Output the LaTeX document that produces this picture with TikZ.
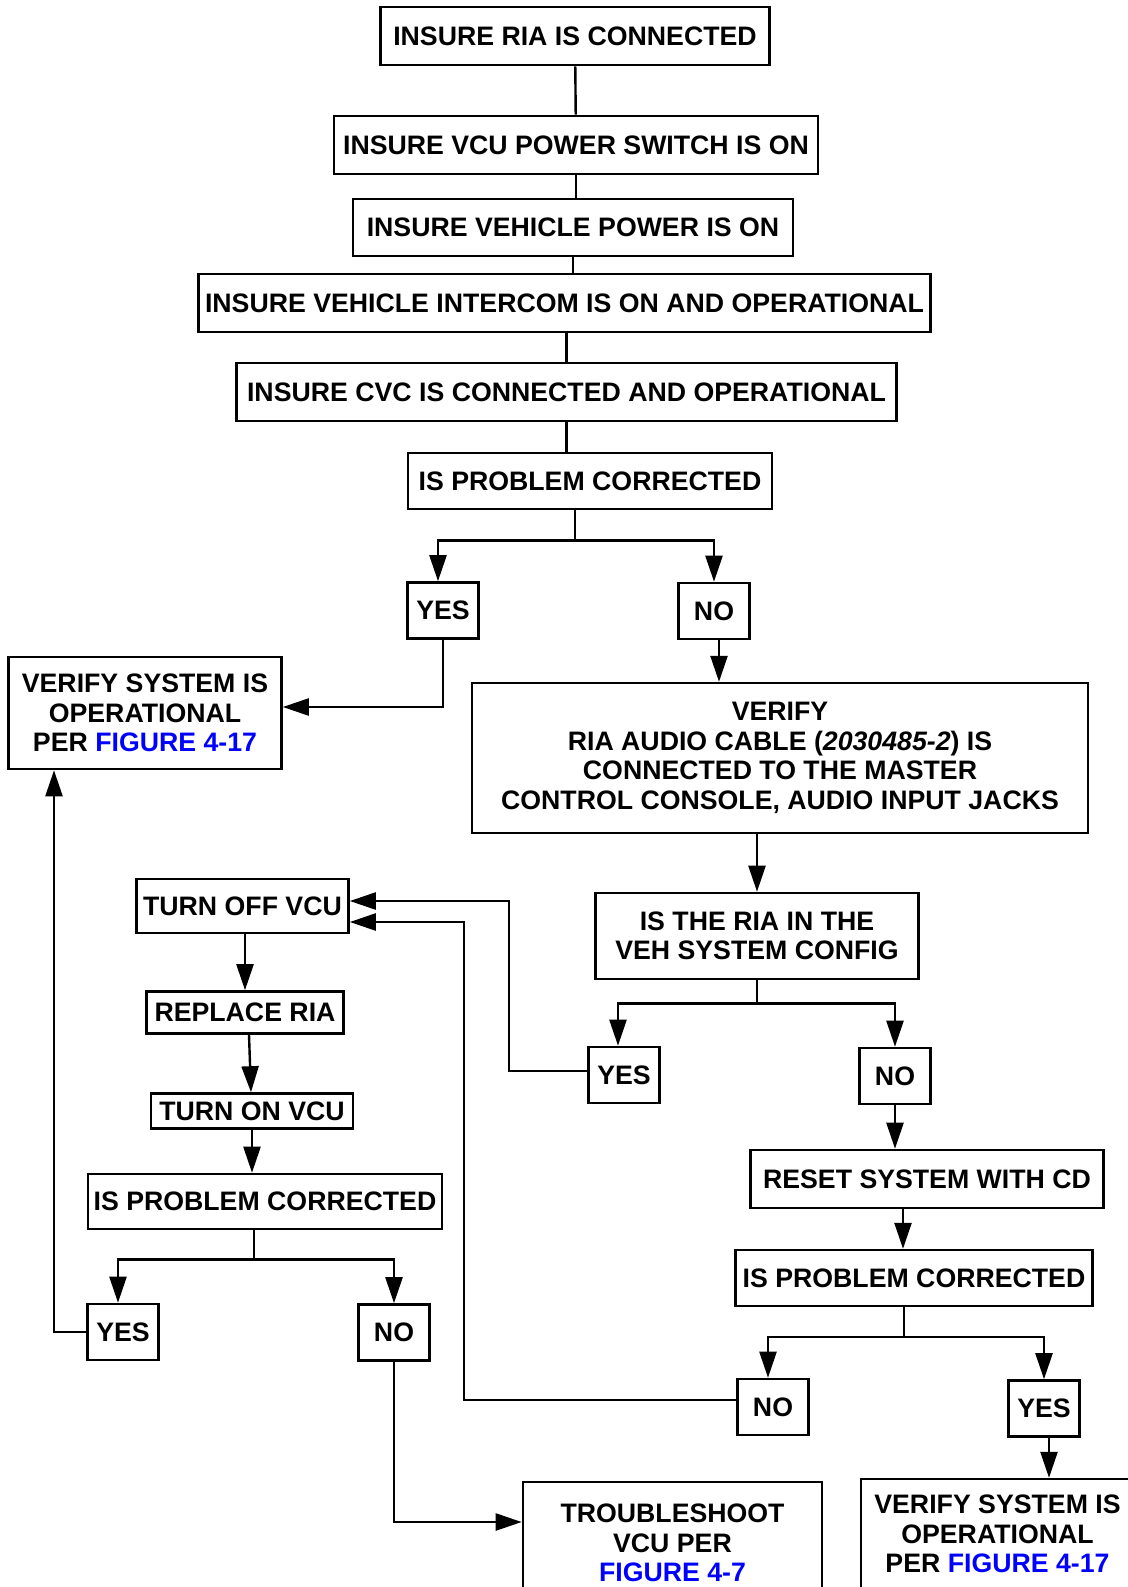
\documentclass[tikz,border=0pt]{standalone}
\usepackage{fontspec}
\setmainfont{Liberation Sans}
\usetikzlibrary{arrows.meta}
\tikzset{
  box/.style={draw, line width=2.6pt, inner sep=3pt, align=center,
    font=\fontsize{26.7}{29.5}\selectfont\bfseries},
  ans/.style={box, minimum width=71pt, minimum height=56pt},
}
\begin{document}
\begin{tikzpicture}[x=1pt,y=-1pt,line width=2.4pt,>={Triangle[length=26pt,width=17pt]}]
\useasboundingbox (0,0) rectangle (1127,1587);
% checks before anything else
\node[box, minimum width=389pt, minimum height=58pt] (insria) at (575,36) {INSURE RIA IS CONNECTED};
\node[box, minimum width=484pt, minimum height=58pt] (insvcu) at (576,145) {INSURE VCU POWER SWITCH IS ON};
\node[box, minimum width=440pt, minimum height=57pt] (insveh) at (573,227.5) {INSURE VEHICLE POWER IS ON};
\node[box, minimum width=732pt, minimum height=58pt] (insicom) at (564.5,303) {INSURE VEHICLE INTERCOM IS ON AND OPERATIONAL};
\node[box, minimum width=660pt, minimum height=58pt] (inscvc) at (566.5,392) {INSURE CVC IS CONNECTED AND OPERATIONAL};
\node[box, minimum width=364pt, minimum height=56pt] (fixa) at (590,481) {IS PROBLEM CORRECTED};
\node[ans] (yesa) at (443,610.5) {YES};
\node[ans] (noa) at (714,611) {NO};
\node[box, minimum width=273pt, minimum height=112pt] (opa) at (145,713) {VERIFY SYSTEM IS\\OPERATIONAL\\PER \textcolor{blue}{FIGURE 4-17}};
% cable and config
\node[box, minimum width=616pt, minimum height=150pt] (cable) at (780,758) {VERIFY\\RIA AUDIO CABLE (\textit{2030485-2}) IS\\CONNECTED TO THE MASTER\\CONTROL CONSOLE, AUDIO INPUT JACKS};
\node[box, minimum width=323pt, minimum height=86pt] (inconf) at (757,936) {IS THE RIA IN THE\\VEH SYSTEM CONFIG};
\node[ans] (yesb) at (624,1075) {YES};
\node[ans] (nob) at (895,1076) {NO};
% replace the RIA
\node[box, minimum width=212pt, minimum height=54pt] (vcuoff) at (242.5,906) {TURN OFF VCU};
\node[box, minimum width=197pt, minimum height=42pt] (newria) at (245,1012.5) {REPLACE RIA};
\node[box, minimum width=202pt, minimum height=35pt] (vcuon) at (252,1111) {TURN ON VCU};
\node[box, minimum width=354pt, minimum height=55pt] (fixb) at (265,1201.5) {IS PROBLEM CORRECTED};
\node[ans] (yesc) at (123,1332) {YES};
\node[ans] (noc) at (394,1332.5) {NO};
\node[box, minimum width=299pt, minimum height=122pt] (vcutrb) at (672.5,1543) {TROUBLESHOOT\\VCU PER\\\textcolor{blue}{FIGURE 4-7}};
% reset
\node[box, minimum width=353pt, minimum height=58pt] (reset) at (927,1179) {RESET SYSTEM WITH CD};
\node[box, minimum width=357pt, minimum height=56pt] (fixc) at (914,1278) {IS PROBLEM CORRECTED};
\node[ans] (nod) at (773,1407) {NO};
\node[ans] (yesd) at (1044,1408.5) {YES};
\node[box, minimum width=273pt, minimum height=110pt] (opb) at (997.5,1534) {VERIFY SYSTEM IS\\OPERATIONAL\\PER \textcolor{blue}{FIGURE 4-17}};

\draw (insria) -- (insvcu);
\draw (insvcu.south) -- (insvcu.south |- insveh.north);
\draw (insveh.south) -- (insveh.south |- insicom.north);
\draw (inscvc.north |- insicom.south) -- (inscvc.north);
\draw (inscvc.south) -- (inscvc.south |- fixa.north);

\draw ([xshift=-15pt]fixa.south) -- ++(0,30) coordinate (fa);
\draw[->] (fa) -| ([xshift=-5pt]yesa.north);
\draw[->] (fa) -| (noa.north);
\draw[->] (yesa.south) |- ([yshift=6pt]opa.east);
\draw[->] ([xshift=5pt]noa.south) -- ++(0,41.5);

\draw[->] (inconf.north |- cable.south) -- (inconf.north);
\draw (inconf.south) -- ++(0,23) coordinate (fb);
\draw[->] (fb) -| ([xshift=-6pt]yesb.north);
\draw[->] (fb) -| (nob.north);
\draw[->] ([yshift=4pt]yesb.west) -- ++(-78,0) |- ([yshift=5pt]vcuoff.east);
\draw[->] (nob.south) -- (nob.south |- reset.north);

\draw[->] (newria.north |- vcuoff.south) -- (newria.north);
\draw[->] ([xshift=4pt]newria.south) -- ([xshift=-1pt]vcuon.north);
\draw[->] (vcuon.south) -- (vcuon.south |- fixb.north);
\draw ([xshift=-11pt]fixb.south) -- ++(0,29) coordinate (fc);
\draw[->] (fc) -| ([xshift=-5pt]yesc.north);
\draw[->] (fc) -| (noc.north);
\draw[->] (yesc.west) -| ([xshift=-91pt]opa.south);
\draw[->] (noc.south) |- ([yshift=21pt]vcutrb.west);

\draw[->] ([xshift=-24pt]reset.south) -- ++(0,39.5);
\draw ([xshift=-10pt]fixc.south) -- ++(0,29.5) coordinate (fd);
\draw[->] (fd) -| ([xshift=-5pt]nod.north);
\draw[->] (fd) -| (yesd.north);
\draw[->] ([yshift=7pt]nod.west) -- ++(-272,0) |- ([yshift=-16pt]vcuoff.east);
\draw[->] ([xshift=5pt]yesd.south) -- ++(0,40);
\end{tikzpicture}
\end{document}
